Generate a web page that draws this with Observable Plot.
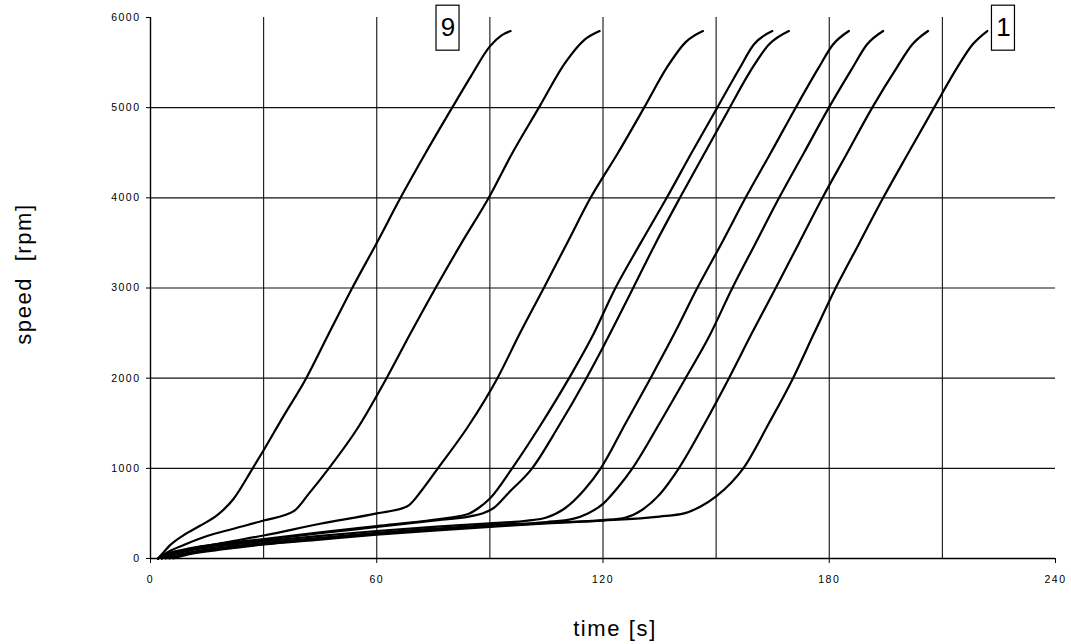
<!DOCTYPE html>
<html>
<head>
<meta charset="utf-8">
<script src="https://cdn.jsdelivr.net/npm/d3@7"></script>
<script src="https://cdn.jsdelivr.net/npm/@observablehq/plot@0.6"></script>
<style>
  html, body { margin: 0; padding: 0; background: white; }
  #chart { width: 1071px; height: 644px; }
</style>
</head>
<body>
<div id="chart"></div>
<script>
// ---- data: acceleration runs, time [s] vs speed [rpm] ----
const run9 = [[2,0],[3.5,70],[5,140],[8.8,260],[13,360],[17.7,480],[22,660],[27.1,1000],[30,1200],[35,1560],[41.3,2000],[47,2470],[53.5,3000],[60,3500],[66.3,4000],[73,4500],[80,5000],[85,5350],[90,5680],[93,5800],[95.5,5850]];
const run8 = [[2,0],[5,80],[8.8,150],[15,250],[22,330],[30,421],[38,525],[42,720],[47.3,1000],[55,1450],[62.6,2000],[69,2500],[75.6,3000],[82.5,3500],[89.7,4000],[96,4500],[103,5000],[110,5500],[115,5750],[119.1,5850]];
const run7 = [[3,0],[6,50],[10,100],[20,180],[30,255],[45,385],[60,500],[68,576],[72,760],[76.2,1000],[84,1450],[92,2000],[98,2500],[104.3,3000],[110.5,3500],[116.7,4000],[124,4500],[130.9,5000],[137,5450],[142,5730],[146.5,5850]];
const run6 = [[2,0],[5,60],[10,110],[20,170],[30,215],[45,290],[60,360],[75,430],[84,490],[87,560],[90,665],[95.9,1000],[103,1450],[111,2000],[117,2450],[123.3,3000],[130,3500],[136.9,4000],[143.5,4500],[150.3,5000],[156,5420],[160,5700],[164.9,5850]];
const run5 = [[2,0],[5,55],[10,100],[20,160],[30,205],[45,280],[60,350],[75,420],[85,470],[88,500],[91,560],[95,730],[101.2,1000],[108,1450],[115.6,2000],[120,2343],[128,3000],[134,3500],[140.4,4000],[147,4500],[153.6,5000],[159,5400],[164,5700],[169.3,5850]];
const run4 = [[3,0],[6,45],[10,85],[20,145],[30,190],[45,250],[60,305],[75,350],[90,390],[100,420],[105,455],[110,560],[115,760],[119.4,1000],[126,1500],[132.6,2000],[139,2500],[145,3000],[151.5,3500],[157.8,4000],[164.5,4500],[171.1,5000],[177,5430],[181,5700],[185.2,5850]];
const run3 = [[4,0],[8,45],[12,80],[20,125],[30,170],[45,230],[60,285],[75,330],[90,370],[105,405],[112,440],[116,500],[120,606],[124,790],[127.8,1000],[135,1500],[141.9,2000],[148,2450],[154.3,3000],[160.5,3500],[166.7,4000],[173.3,4500],[179.9,5000],[186,5430],[190,5700],[194.3,5850]];
const run2 = [[5,0],[10,55],[20,115],[30,160],[45,220],[60,275],[75,320],[90,360],[105,395],[120,425],[126,455],[130,530],[135,710],[140.1,1000],[147,1500],[153.4,2000],[159.5,2500],[165.8,3000],[172,3500],[178.2,4000],[184.8,4500],[191.4,5000],[198,5450],[202,5700],[206.2,5850]];
const run1 = [[6,0],[10,45],[20,105],[30,155],[45,210],[60,265],[75,310],[90,350],[105,390],[120,420],[135,465],[141.5,500],[146,580],[150,690],[154,840],[157.2,1000],[164,1500],[170.4,2000],[176,2500],[181.7,3000],[188,3500],[194.3,4000],[201,4500],[207.8,5000],[214,5450],[218,5700],[221.9,5850]];

const runNames = ["1","2","3","4","5","6","7","8","9"];
const runs = [run1, run2, run3, run4, run5, run6, run7, run8, run9];

const xTicks = [0, 60, 120, 180, 240];
const xGrid = [30, 60, 90, 120, 150, 180, 210];
const yTicks = [0, 1000, 2000, 3000, 4000, 5000, 6000];
const yGrid = [1000, 2000, 3000, 4000, 5000];

// boxed run labels (time position, speed position)
const boxLabels = ["9", "1"];
const boxTimes = [78.9, 226.2];
const boxSpeed = 5882;

const xTitle = "time [s]";
const yTitle = "speed\u00a0\u00a0[rpm]";

// ---- build table ----
const rows = [];
runs.forEach((r, i) => r.forEach(([t, v]) => rows.push({run: runNames[i], t, rpm: v})));
const labelRows = boxLabels.map((l, i) => ({label: l, t: boxTimes[i]}));

const font = "'Liberation Sans', Arial, Helvetica, sans-serif";

const chart = Plot.plot({
  width: 1071,
  height: 644,
  marginLeft: 150,
  marginRight: 16,
  marginTop: 17,
  marginBottom: 86,
  style: {fontFamily: font, fontSize: "10.5px", background: "white", color: "black", overflow: "visible"},
  x: {domain: [0, 240], label: null},
  y: {domain: [0, 6000], label: null},
  marks: [
    Plot.ruleX(xGrid, {stroke: "#111", strokeWidth: 1.1}),
    Plot.ruleY(yGrid, {stroke: "#111", strokeWidth: 1.1}),
    Plot.axisX(xTicks, {tickSize: 5, tickPadding: 12, label: null, stroke: "black", fill: "black"}),
    Plot.axisY(yTicks, {tickSize: 4, tickPadding: 6, tickFormat: d3.format("d"), label: null, stroke: "black", fill: "black"}),
    Plot.ruleX([0], {stroke: "black", strokeWidth: 1.4}),
    Plot.ruleY([0], {stroke: "black", strokeWidth: 1.4}),
    Plot.line(rows, {x: "t", y: "rpm", z: "run", curve: "monotone-x", stroke: "black", strokeWidth: 2.2}),
    Plot.rect(labelRows, {x1: d => d.t - 3.05, x2: d => d.t + 3.05, y1: 5632, y2: 6131, fill: "white", stroke: "black", strokeWidth: 1.2}),
    Plot.text(labelRows, {x: "t", y: boxSpeed, text: "label", fontSize: 26, fill: "black", textAnchor: "middle", lineAnchor: "middle"}),
    Plot.text([xTitle], {frameAnchor: "bottom", dx: 12, dy: 70, fontSize: 22, fill: "black", textAnchor: "middle", lineAnchor: "middle"}),
    Plot.text([yTitle], {frameAnchor: "left", dx: -127, dy: -14, rotate: -90, fontSize: 22, fill: "black", textAnchor: "middle", lineAnchor: "middle"})
  ]
});

d3.select(chart).selectAll("g[aria-label='x-axis tick label'] text, g[aria-label='y-axis tick label'] text").style("letter-spacing", "1.5px");
d3.select(chart).selectAll("g[aria-label='text'] text").filter(function() { return this.textContent.length > 2; }).style("letter-spacing", "1.6px");

document.getElementById("chart").appendChild(chart);
</script>
</body>
</html>
